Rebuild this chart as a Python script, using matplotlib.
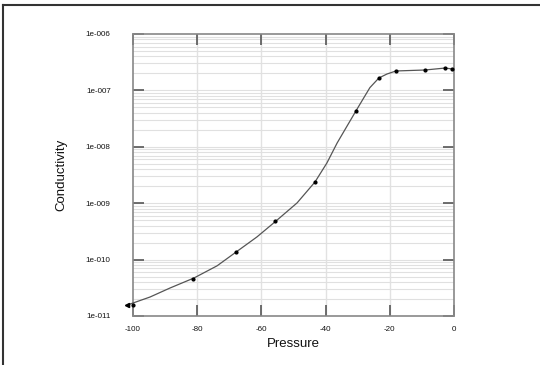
import matplotlib
matplotlib.use("Agg")
import matplotlib.pyplot as plt
from matplotlib.lines import Line2D
from matplotlib.ticker import FixedLocator, FixedFormatter, NullFormatter

plt.rcParams['font.family'] = ['Liberation Sans', 'DejaVu Sans']

# measured data points (markers)
point_pressure = [-100, -81.3, -67.9, -55.8, -43.3, -30.5, -23.4, -18.1, -9.0, -2.8, -0.5]
point_cond = [1.58e-11, 4.5e-11, 1.36e-10, 4.8e-10, 2.4e-9, 4.3e-8, 1.66e-7, 2.2e-7, 2.3e-7, 2.5e-7, 2.4e-7]

# fitted curve
curve_pressure = [-101.5, -100.9, -94.7, -88.5, -81.0, -73.8, -67.9, -61.4, -55.8, -48.9,
                  -43.3, -39.6, -36.4, -33.3, -30.5, -28.3, -26.2, -23.4, -20.9, -18.1,
                  -9.0, -2.8, -0.3]
curve_cond = [1.58e-11, 1.63e-11, 2.17e-11, 3.13e-11, 4.72e-11, 7.76e-11, 1.36e-10, 2.52e-10,
              4.65e-10, 1.01e-9, 2.38e-9, 5.16e-9, 1.17e-8, 2.34e-8, 4.37e-8, 7.08e-8,
              1.12e-7, 1.66e-7, 1.95e-7, 2.21e-7, 2.30e-7, 2.49e-7, 2.39e-7]

y_ticks = [1e-11, 1e-10, 1e-9, 1e-8, 1e-7, 1e-6]
y_tick_labels = ["1e-011", "1e-010", "1e-009", "1e-008", "1e-007", "1e-006"]
x_ticks = [-100, -80, -60, -40, -20, 0]
x_tick_labels = ["-100", "-80", "-60", "-40", "-20", "0"]

fig = plt.figure(figsize=(5.4, 3.65), dpi=100)
ax = fig.add_axes([133/540, 1-316/365, 321/540, 282/365])

ax.set_yscale('log')
ax.set_xlim(-100, 0)
ax.set_ylim(1e-11, 1e-6)

# grid
for xv in x_ticks[1:-1]:
    ax.axvline(xv, color='#e2e2e2', lw=1.0, zorder=0)
minor_vals = []
for d in range(-11, -6):
    for m in range(1, 10):
        v = m * 10.0**d
        if 1e-11 < v < 1e-6:
            minor_vals.append(v)
for v in minor_vals:
    ax.axhline(v, color='#e0e0e0', lw=0.8, zorder=0)

ax.plot(curve_pressure, curve_cond, color='#555555', lw=0.9, clip_on=False, zorder=3,
        solid_joinstyle='round')
ax.plot(point_pressure, point_cond, 'o', color='black', ms=2.0, clip_on=False, zorder=4)
ax.plot([-101.8], [1.58e-11], marker='<', color='black', ms=3.0, clip_on=False, zorder=4)

ax.yaxis.set_major_locator(FixedLocator(y_ticks))
ax.yaxis.set_major_formatter(FixedFormatter(y_tick_labels))
ax.yaxis.set_minor_locator(FixedLocator([]))
ax.yaxis.set_minor_formatter(NullFormatter())
ax.xaxis.set_major_locator(FixedLocator(x_ticks))
ax.xaxis.set_major_formatter(FixedFormatter(x_tick_labels))

ax.tick_params(axis='both', which='major', direction='in', length=8, width=1.2,
               color='#555555', top=True, right=True, labelsize=5.8, pad=7,
               labelcolor='#111111')
ax.tick_params(axis='y', pad=16)

for s in ax.spines.values():
    s.set_color('#888888')
    s.set_linewidth(1.2)

ax.set_xlabel("Pressure", fontsize=9.5, labelpad=4, color='#111111')
ax.set_ylabel("Conductivity", fontsize=9.5, labelpad=13, color='#111111')

# figure frame (left and top edges visible)
fig.add_artist(Line2D([3/540, 3/540], [0, 1-5/365], transform=fig.transFigure, color='#333333', lw=1.5))
fig.add_artist(Line2D([3/540, 1], [1-5/365, 1-5/365], transform=fig.transFigure, color='#333333', lw=1.5))

fig.savefig("out.png", dpi=100)
